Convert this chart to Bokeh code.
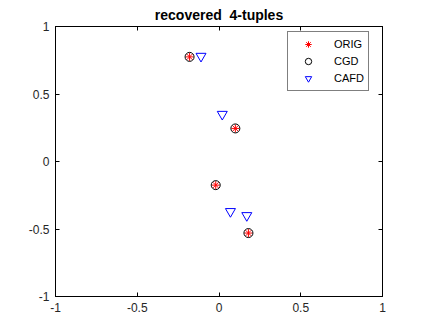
from bokeh.plotting import figure
from bokeh.models import Range1d, LinearAxis, FixedTicker, Legend, LegendItem, Title
from bokeh.embed import file_html
from bokeh.resources import INLINE

orig_x = [-0.18, 0.10, -0.02, 0.18]
orig_y = [0.775, 0.245, -0.175, -0.53]
cgd_x = [-0.18, 0.10, -0.02, 0.18]
cgd_y = [0.775, 0.245, -0.175, -0.53]
cafd_x = [-0.11, 0.02, 0.07, 0.17]
cafd_y = [0.78, 0.35, -0.37, -0.40]
ticks = [-1, -0.5, 0, 0.5, 1]
tick_labels = ["-1", "-0.5", "0", "0.5", "1"]

FONT = "Liberation Sans"

p = figure(width=407, height=317, output_backend="svg", toolbar_location=None,
           x_range=Range1d(-1, 1), y_range=Range1d(-1, 1),
           min_border_left=55, min_border_right=25, min_border_top=25, min_border_bottom=21,
           x_axis_location=None, y_axis_location=None)
p.title = Title(text="recovered\u00a0 4-tuples", align="center", text_font=FONT,
                text_font_size="14px", text_font_style="bold", text_color="black",
                offset=0, standoff=8)
p.grid.visible = False
p.outline_line_color = "black"
p.outline_line_width = 1

def mk_axis(labels):
    ax = LinearAxis(ticker=FixedTicker(ticks=ticks))
    ax.major_tick_in = 4
    ax.major_tick_out = 0
    ax.minor_tick_in = 0
    ax.minor_tick_out = 0
    ax.axis_line_color = "black"
    ax.major_tick_line_color = "black"
    ax.major_label_text_font = FONT
    ax.major_label_text_font_size = "12px"
    ax.major_label_text_color = "#262626"
    ax.major_label_standoff = 6
    if labels:
        ax.major_label_overrides = {t: s for t, s in zip(ticks, tick_labels)}
    else:
        ax.major_label_overrides = {t: "" for t in ticks}
        ax.major_label_standoff = 0
    return ax

p.add_layout(mk_axis(True), "below")
p.add_layout(mk_axis(True), "left")
p.add_layout(mk_axis(False), "above")
p.add_layout(mk_axis(False), "right")

r1 = p.scatter(orig_x, orig_y, marker="asterisk", size=8, line_color="red", line_width=1)
r2 = p.scatter(cgd_x, cgd_y, marker="circle", size=9, fill_color=None, line_color="black", line_width=1)
r3 = p.scatter(cafd_x, cafd_y, marker="inverted_triangle", size=10, fill_color=None, line_color="blue", line_width=1)

leg = Legend(items=[LegendItem(label="ORIG", renderers=[r1]),
                    LegendItem(label="CGD", renderers=[r2]),
                    LegendItem(label="CAFD", renderers=[r3])],
             location=(232, 205))
leg.border_line_color = "black"
leg.border_line_width = 1
leg.label_text_font = FONT
leg.label_text_font_size = "11px"
leg.label_text_color = "black"
leg.glyph_width = 32
leg.glyph_height = 16
leg.label_height = 16
leg.spacing = 1
leg.padding = 4
leg.margin = 0
leg.label_standoff = 10
leg.background_fill_alpha = 1
p.add_layout(leg, "center")

open("out.html", "w").write(file_html(p, INLINE))
